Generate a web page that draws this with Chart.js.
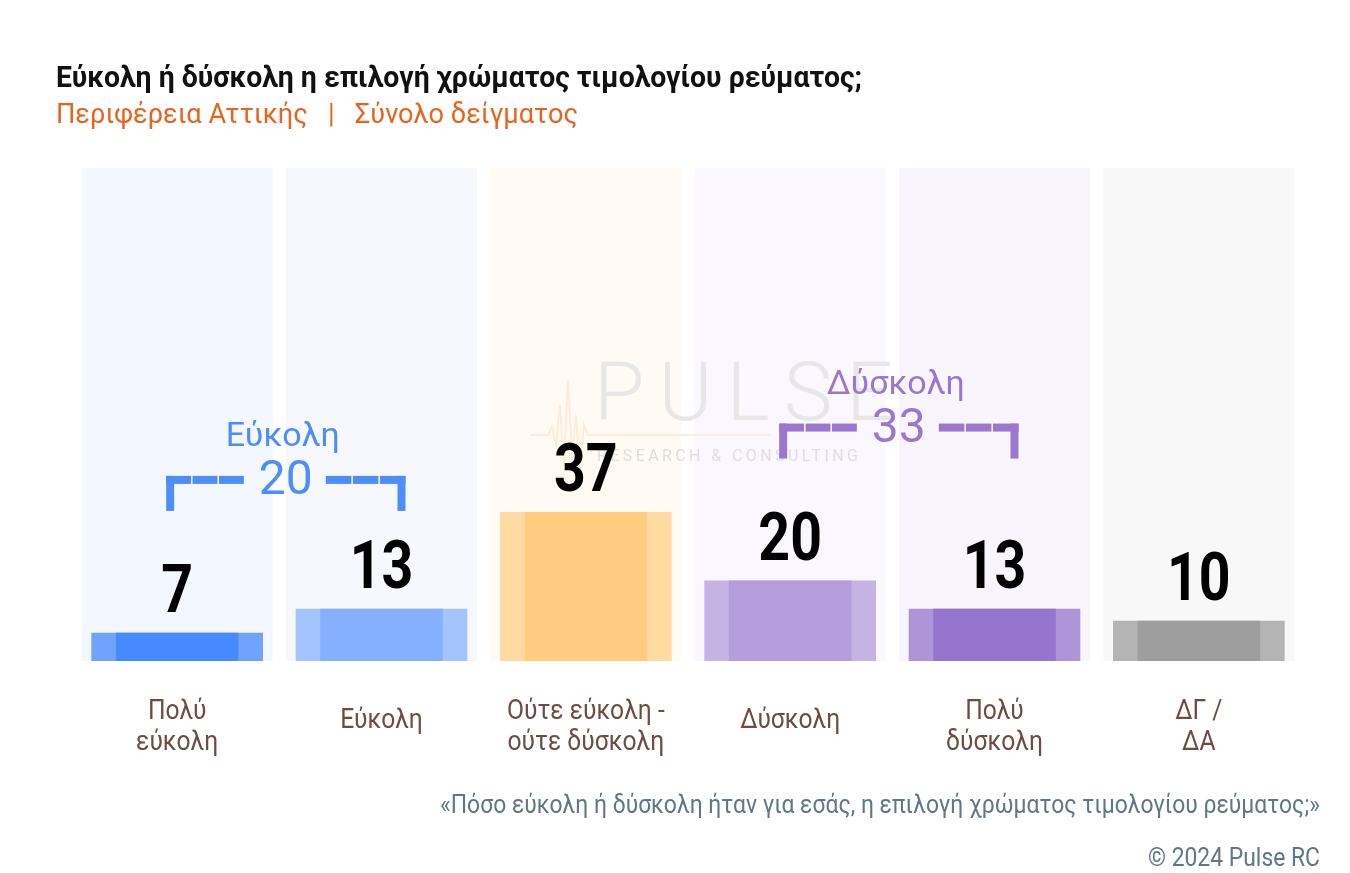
<!DOCTYPE html>
<html><head><meta charset="utf-8">
<script src="https://cdn.jsdelivr.net/npm/chart.js@4.4.1/dist/chart.umd.min.js"></script>
<style>html,body{margin:0;padding:0;background:#fff;}canvas{display:block}</style>
</head><body>
<canvas id="c" width="1350" height="873"></canvas>
<script>
// ---- data ----
const categories = [["Πολύ","εύκολη"],["Εύκολη"],["Ούτε εύκολη -","ούτε δύσκολη"],["Δύσκολη"],["Πολύ","δύσκολη"],["ΔΓ /","ΔΑ"]];
const values = [7, 13, 37, 20, 13, 10];
const columnTop = [122.5, 122.5, 122.5, 122.5, 122.5, 122.5];
const groupLabels = ["Εύκολη", "Δύσκολη"];
const groupTotals = [20, 33];
const groupFrom = [0, 3];
const groupTo = [1, 4];
const titleText = "Εύκολη ή δύσκολη η επιλογή χρώματος τιμολογίου ρεύματος;";
const subtitleText = "Περιφέρεια Αττικής   |   Σύνολο δείγματος";
const questionText = "«Πόσο εύκολη ή δύσκολη ήταν για εσάς, η επιλογή χρώματος τιμολογίου ρεύματος;»";
const creditText = "© 2024 Pulse RC";

// ---- styles ----
const innerColors = ["#468AFF", "#85B0FE", "#FFCC80", "#B39DDB", "#9575CD", "#9E9E9E"];
const outerColors = ["#70A3FC", "#A3C4FE", "#FFDAA2", "#C5B3E4", "#AE95D8", "#B4B4B4"];
const columnColors = ["#F3F7FF", "#F6F8FE", "#FFFAF4", "#FAF8FE", "#F8F6FC", "#F8F8F8"];
const groupColors = ["#4D8EFB", "#9B77D0"];
const groupLevels = [45, 58];

function drawText(ctx, text, x, y, font, color, align, targetWidth, scaleX) {
  ctx.save();
  ctx.font = font; ctx.fillStyle = color; ctx.textBaseline = 'alphabetic';
  ctx.textAlign = align;
  const w = ctx.measureText(text).width;
  const s = targetWidth ? targetWidth / w : (scaleX || 1);
  ctx.translate(x, y); ctx.scale(s, 1);
  ctx.fillText(text, 0, 0);
  ctx.restore();
}

const decor = {
  id: 'decor',
  afterDatasetsDraw(chart) {
    const ctx = chart.ctx;
    const xs = chart.scales.x, ys = chart.scales.y;
    // watermark
    ctx.save();
    ctx.globalAlpha = 0.9;
    ctx.strokeStyle = "#FCEBD8"; ctx.lineWidth = 2;
    ctx.beginPath();
    const bx = 530, by = 435;
    const pts = [[0,0],[18,0],[22,-8],[26,10],[30,-30],[34,30],[38,-55],[42,20],[46,-20],[50,35],[54,-10],[58,0],[240,0]];
    pts.forEach((p,i)=>{ if(i===0) ctx.moveTo(bx+p[0],by+p[1]); else ctx.lineTo(bx+p[0],by+p[1]); });
    ctx.stroke();
    ctx.fillStyle = "#E4E4E4";
    ctx.font = "300 82px Roboto";
    ctx.letterSpacing = "14px";
    ctx.textBaseline = 'alphabetic'; ctx.textAlign = 'left';
    ctx.fillText("PULSE", 594, 420);
    ctx.font = "400 16px Roboto";
    ctx.letterSpacing = "3.4px";
    ctx.fillStyle = "#DADADA";
    ctx.fillText("RESEARCH & CONSULTING", 597, 461);
    ctx.restore();

    // group brackets
    for (let g = 0; g < groupLabels.length; g++) {
      const col = groupColors[g];
      const lx = xs.getPixelForValue(groupFrom[g]) - 7;
      const rx = xs.getPixelForValue(groupTo[g]) + 20;
      const ly = ys.getPixelForValue(groupLevels[g]);
      const mid = (lx + rx) / 2;
      ctx.save();
      ctx.font = "400 48px Roboto";
      const nw = ctx.measureText(String(groupTotals[g])).width;
      ctx.fillStyle = col;
      const t = 8;
      ctx.fillRect(lx - t/2, ly - t/2, t, 35);
      ctx.fillRect(rx - t/2, ly - t/2, t, 35);
      const segL0 = lx - t/2, segL1 = mid - nw/2 - 15;
      const segR0 = mid + nw/2 + 13, segR1 = rx + t/2;
      const drawSeg = (a, b) => {
        const n = 3, gap = 1.5, len = (b - a - gap*(n-1)) / n;
        for (let k = 0; k < n; k++) ctx.fillRect(a + k*(len+gap), ly - t/2, len, t);
      };
      drawSeg(segL0, segL1); drawSeg(segR0, segR1);
      ctx.textAlign = 'center'; ctx.textBaseline = 'middle';
      ctx.fillText(String(groupTotals[g]), mid, ly + 2);
      ctx.font = "400 34px Roboto";
      ctx.textBaseline = 'alphabetic';
      ctx.fillText(groupLabels[g], mid - 3, ly - 34);
      ctx.restore();
    }

    // value labels
    const meta = chart.getDatasetMeta(2);
    meta.data.forEach((bar, i) => {
      drawText(ctx, String(values[i]), bar.x, bar.y - 21, "bold 66px Roboto", "#000", 'center', null, 0.84);
    });

    // category labels
    const lf = "400 28px Roboto", lc = "#6D4C41", ls = 0.88;
    categories.forEach((lines, i) => {
      const x = xs.getPixelForValue(i);
      if (lines.length === 1) {
        drawText(ctx, lines[0], x, 728, lf, lc, 'center', null, ls);
      } else {
        lines.forEach((ln, k) => drawText(ctx, ln, x, 719 + k * 31, lf, lc, 'center', null, ls));
      }
    });

    // texts
    drawText(ctx, titleText, 56, 87, "bold 29px Roboto", "#111111", 'left', 806);
    drawText(ctx, subtitleText, 56, 123, "400 28px Roboto", "#E8641E", 'left', 522);
    drawText(ctx, questionText, 1320, 813, "400 26px Roboto", "#5F7786", 'right', 880);
    drawText(ctx, creditText, 1320, 866, "400 26px Roboto", "#5F7786", 'right', 172);
  }
};

new Chart(document.getElementById('c'), {
  type: 'bar',
  data: {
    labels: categories,
    datasets: [
      { data: values, backgroundColor: innerColors, barPercentage: 0.6, categoryPercentage: 1, grouped: false, order: 1 },
      { data: values, backgroundColor: outerColors, barPercentage: 0.84, categoryPercentage: 1, grouped: false, order: 2 },
      { data: values, backgroundColor: 'rgba(0,0,0,0)', barPercentage: 0.6, categoryPercentage: 1, grouped: false, order: 0 },
      { data: columnTop, backgroundColor: columnColors, barPercentage: 0.935, categoryPercentage: 1, grouped: false, order: 3 }
    ]
  },
  options: {
    responsive: false,
    animation: false,
    layout: { padding: { left: 75, right: 49, top: 168, bottom: 212 } },
    plugins: { legend: { display: false }, tooltip: { enabled: false }, title: { display: false } },
    scales: {
      x: { display: false, offset: true },
      y: { display: false, min: 0, max: 122.5 }
    }
  },
  plugins: [decor]
});
</script>
</body></html>
